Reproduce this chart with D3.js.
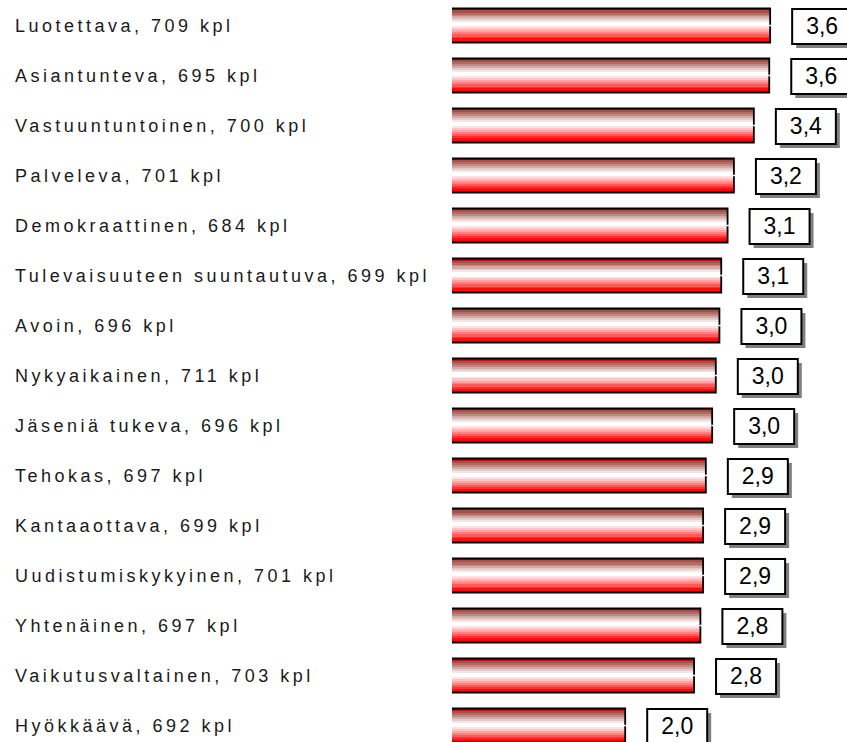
<!DOCTYPE html>
<html lang="fi">
<head>
<meta charset="UTF-8">
<title>Mielikuvat</title>
<style>
  html, body { margin: 0; padding: 0; background: #fff; }
  #chart { width: 847px; height: 742px; overflow: hidden; }
  text { font-family: "Liberation Sans", Arial, sans-serif; }
</style>
</head>
<body>
<div id="chart"></div>
<script src="https://cdn.jsdelivr.net/npm/d3@7"></script>
<script>

const attributes = ["Luotettava", "Asiantunteva", "Vastuuntuntoinen", "Palveleva", "Demokraattinen",
  "Tulevaisuuteen suuntautuva", "Avoin", "Nykyaikainen", "Jäseniä tukeva", "Tehokas",
  "Kantaaottava", "Uudistumiskykyinen", "Yhtenäinen", "Vaikutusvaltainen", "Hyökkäävä"]
const counts = [709, 695, 700, 701, 684, 699, 696, 711, 696, 697, 699, 701, 697, 703, 692]
const means = [3.60, 3.59, 3.42, 3.20, 3.13, 3.06, 3.04, 3.00, 2.96, 2.89, 2.86, 2.86, 2.83, 2.76, 2.00]

const width = 847, height = 742
const plotLeft = 452

const svg = d3.select('#chart').append('svg')
  .attr('width', width)
  .attr('height', height)

// banded gradient, dark red-brown on top, white in the middle, red at bottom
const bands = ['#c01010', '#a85048', '#b26c64', '#c08a84', '#d2aaa6', '#e4cac8', '#f2e6e6', '#ffffff',
  '#ffffff', '#ffe2e2', '#ffc4c4', '#ffa4a4', '#ff8080', '#ff5a5a', '#ff3030', '#ff0c0c', '#ff0000']
const grad = svg.append('defs').append('linearGradient')
  .attr('id', 'barGrad')
  .attr('x1', 0).attr('y1', 0).attr('x2', 0).attr('y2', 1)
bands.forEach((c, i) => {
  grad.append('stop').attr('offset', i / bands.length).attr('stop-color', c)
  grad.append('stop').attr('offset', (i + 1) / bands.length).attr('stop-color', c)
})

const x = d3.scaleLinear().domain([0, 4]).range([444, 806.4])
const y = d3.scaleBand().domain(d3.range(attributes.length)).range([0.5, 750.5]).paddingInner(0.32).paddingOuter(0.16)

const fmt = v => d3.format('.1f')(v).replace('.', ',')

const rows = svg.selectAll('g.row')
  .data(means)
  .join('g')
  .attr('class', 'row')

// category labels
rows.append('text')
  .attr('x', 15)
  .attr('y', (d, i) => y(i) + y.bandwidth() / 2 + 6)
  .attr('font-size', 18)
  .attr('letter-spacing', 3.5)
  .attr('fill', '#1a1a1a')
  .text((d, i) => `${attributes[i]}, ${counts[i]} kpl`)

// bars
rows.append('rect')
  .attr('x', plotLeft)
  .attr('y', (d, i) => y(i))
  .attr('width', d => x(d) - plotLeft)
  .attr('height', y.bandwidth())
  .attr('fill', 'url(#barGrad)')

rows.append('path')
  .attr('d', (d, i) => {
    const t = y(i), b = y(i) + y.bandwidth(), r = x(d)
    return `M${plotLeft},${t}H${r}V${b}H${plotLeft}`
  })
  .attr('fill', 'none')
  .attr('stroke', '#000')
  .attr('stroke-width', 1.8)

rows.append('line')
  .attr('x1', d => x(d) - 1)
  .attr('x2', d => x(d) + 2)
  .attr('y1', (d, i) => y(i) + y.bandwidth() / 2)
  .attr('y2', (d, i) => y(i) + y.bandwidth() / 2)
  .attr('stroke', '#fff')
  .attr('stroke-width', 1.5)

// value boxes
const boxW = 60, boxH = 35
rows.append('rect')
  .attr('x', d => x(d) + 26)
  .attr('y', (d, i) => y(i) + y.bandwidth() / 2 - boxH / 2 + 5)
  .attr('width', boxW)
  .attr('height', boxH)
  .attr('fill', '#808080')

rows.append('rect')
  .attr('x', d => x(d) + 22)
  .attr('y', (d, i) => y(i) + y.bandwidth() / 2 - boxH / 2 + 1)
  .attr('width', boxW)
  .attr('height', boxH)
  .attr('fill', '#fff')
  .attr('stroke', '#000')
  .attr('stroke-width', 2)

rows.append('text')
  .attr('x', d => x(d) + 22 + boxW / 2)
  .attr('y', (d, i) => y(i) + y.bandwidth() / 2 + 8.5)
  .attr('text-anchor', 'middle')
  .attr('font-size', 23)
  .attr('fill', '#000')
  .text(d => fmt(d))

</script>
</body>
</html>
